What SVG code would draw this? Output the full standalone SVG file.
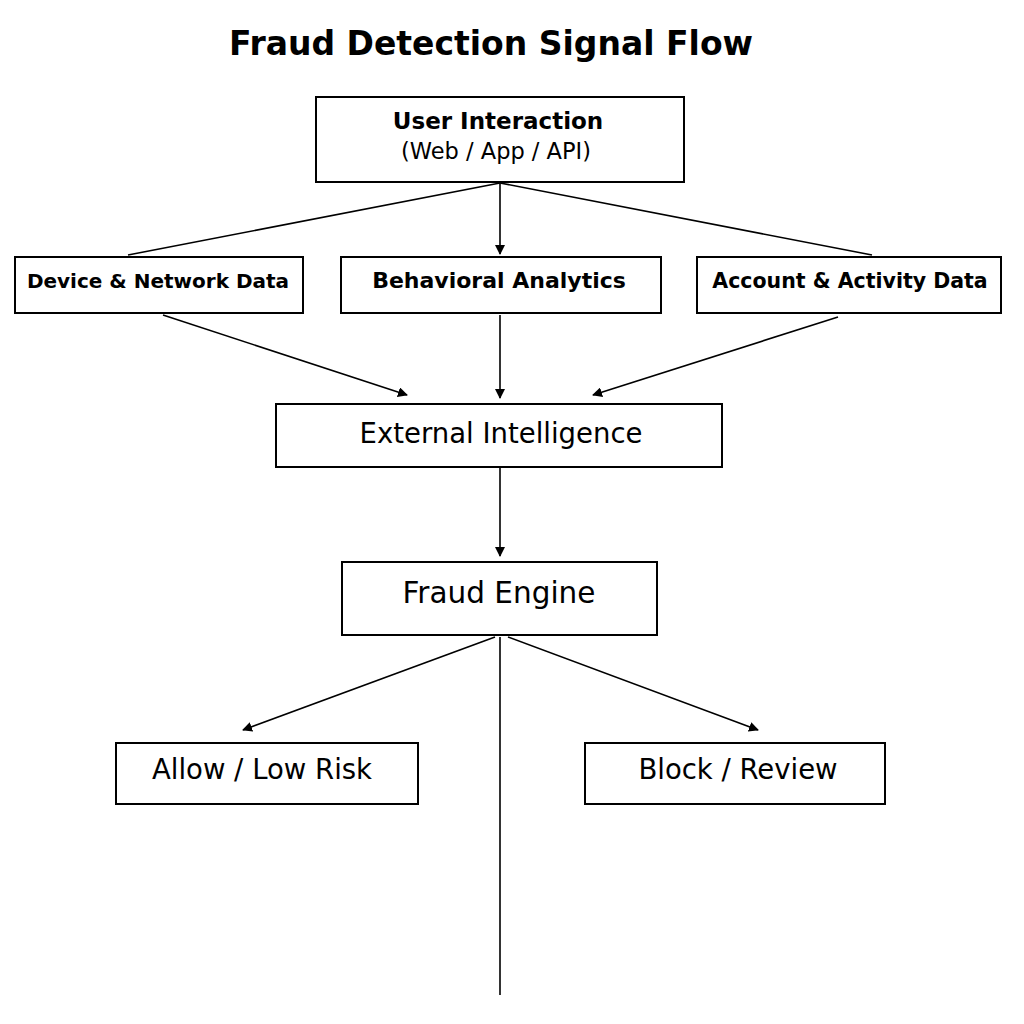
<svg xmlns="http://www.w3.org/2000/svg" width="1024" height="1024" viewBox="0 0 1024 1024">
<style>
.box{fill:#fff;stroke:#000;stroke-width:2}
.t{font-family:"DejaVu Sans",sans-serif;text-anchor:middle;fill:#000}
.b{font-weight:bold}
.c{stroke:#000;stroke-width:1.6;fill:none}
</style>
<defs><marker id="a" markerWidth="10" markerHeight="10" refX="9" refY="5" orient="auto" markerUnits="userSpaceOnUse"><path d="M0,0 L10,5 L0,10 z" fill="#000"/></marker></defs>
<rect width="1024" height="1024" fill="#fff"/>
<text class="t b" x="491" y="55" font-size="33">Fraud Detection Signal Flow</text>
<g id="connectors">
<path class="c" d="M500,183 L128,255"/>
<path class="c" d="M500,183 L500,254" marker-end="url(#a)"/>
<path class="c" d="M500,183 L872,255"/>
<path class="c" d="M163,315 L407,395" marker-end="url(#a)"/>
<path class="c" d="M500,315 L500,398" marker-end="url(#a)"/>
<path class="c" d="M838,317 L593,395" marker-end="url(#a)"/>
<path class="c" d="M500,468 L500,556" marker-end="url(#a)"/>
<path class="c" d="M495,637 L243,730" marker-end="url(#a)"/>
<path class="c" d="M508,637 L758,730" marker-end="url(#a)"/>
<path class="c" d="M500,637 L500,995"/>
</g>
<g id="user"><rect class="box" x="316" y="97" width="368" height="85"/>
<text class="t b" x="498" y="129" font-size="23">User Interaction</text>
<text class="t" x="496" y="159" font-size="22.5">(Web / App / API)</text></g>
<g id="device"><rect class="box" x="15" y="257" width="288" height="56"/>
<text class="t b" x="158" y="288" font-size="20">Device &amp; Network Data</text></g>
<g id="behavioral"><rect class="box" x="341" y="257" width="320" height="56"/>
<text class="t b" x="499" y="288" font-size="22">Behavioral Analytics</text></g>
<g id="account"><rect class="box" x="697" y="257" width="304" height="56"/>
<text class="t b" x="850" y="288" font-size="20.5">Account &amp; Activity Data</text></g>
<g id="external"><rect class="box" x="276" y="404" width="446" height="63"/>
<text class="t" x="501" y="443" font-size="27.5">External Intelligence</text></g>
<g id="engine"><rect class="box" x="342" y="562" width="315" height="73"/>
<text class="t" x="499" y="603" font-size="29.5">Fraud Engine</text></g>
<g id="allow"><rect class="box" x="116" y="743" width="302" height="61"/>
<text class="t" x="262" y="779" font-size="27.5">Allow / Low Risk</text></g>
<g id="block"><rect class="box" x="585" y="743" width="300" height="61"/>
<text class="t" x="738" y="779" font-size="27.5">Block / Review</text></g>
</svg>
